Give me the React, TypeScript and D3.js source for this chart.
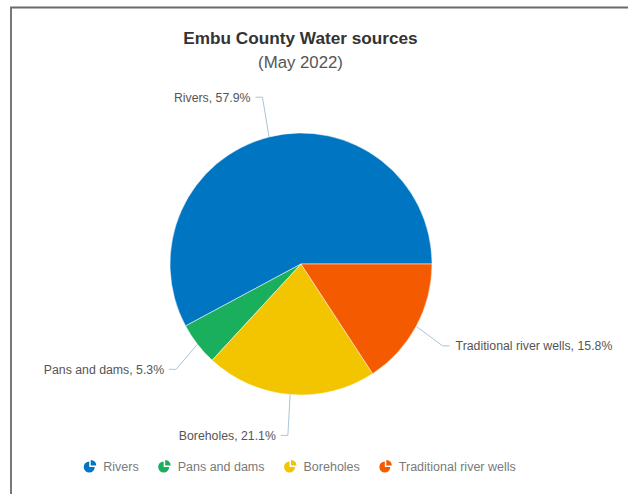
import React, { useEffect, useRef } from "react";
import * as d3 from "d3";

const categories = ["Rivers", "Pans and dams", "Boreholes", "Traditional river wells"];
const values = [57.9, 5.3, 21.1, 15.8];
const colors = ["#0075c2", "#1aaf5d", "#f2c500", "#f45b00"];
const title = "Embu County Water sources";
const subtitle = "(May 2022)";

const W = 628;
const H = 494;

export default function App() {
  const ref = useRef<SVGSVGElement>(null);

  useEffect(() => {
    const svg = d3.select(ref.current);
    svg.selectAll("*").remove();
    const font = "Liberation Sans, Arial, Helvetica, sans-serif";

    // frame
    svg.append("path")
      .attr("d", `M11,${H} V7.5 H${W}`)
      .attr("fill", "none")
      .attr("stroke", "#6a6a6a")
      .attr("stroke-width", 1.8);

    svg.append("text")
      .attr("x", 300.5).attr("y", 44)
      .attr("text-anchor", "middle")
      .attr("font-family", font)
      .attr("font-size", 17.2)
      .attr("font-weight", "bold")
      .attr("fill", "#333")
      .text(title);
    svg.append("text")
      .attr("x", 300.5).attr("y", 68)
      .attr("text-anchor", "middle")
      .attr("font-family", font)
      .attr("font-size", 16.8)
      .attr("fill", "#555")
      .text(subtitle);

    const cx = 301, cy = 264, r = 131;
    const data = categories.map((c, i) => ({ c, v: values[i], color: colors[i] }));
    const pie = d3.pie<any>().sort(null).value((d: any) => d.v)
      .startAngle(Math.PI / 2 + 2 * Math.PI).endAngle(Math.PI / 2);
    const arcs = pie(data);
    const arc = d3.arc<any>().innerRadius(0).outerRadius(r);

    const g = svg.append("g").attr("transform", `translate(${cx},${cy})`);
    g.selectAll("path.slice").data(arcs).enter().append("path")
      .attr("class", "slice")
      .attr("d", arc as any)
      .attr("fill", (d: any) => d.data.color)
      .attr("stroke", "#fff")
      .attr("stroke-width", 0.5);

    arcs.forEach((a: any) => {
      const mid = (a.startAngle + a.endAngle) / 2;
      const sx = Math.sin(mid), sy = -Math.cos(mid);
      const left = sx < 0;
      const p0 = [sx * r, sy * r];
      const p1 = [sx * (left ? 158 : 161), sy * 172];
      const p2 = [p1[0] + (left ? -7 : 7), p1[1]];
      g.append("path")
        .attr("d", `M${p0[0]},${p0[1]} L${p1[0]},${p1[1]} L${p2[0]},${p2[1]}`)
        .attr("fill", "none")
        .attr("stroke", "#a9c6d6")
        .attr("stroke-width", 1);
      g.append("text")
        .attr("x", p2[0] + (left ? -5 : 6))
        .attr("y", p1[1])
        .attr("dy", "0.35em")
        .attr("text-anchor", left ? "end" : "start")
        .attr("font-family", font)
        .attr("font-size", 12.3)
        .attr("fill", "#555")
        .text(`${a.data.c}, ${a.data.v}%`);
    });

    // legend
    const lg = svg.append("g");
    const ly = 467;
    const iconArc = d3.arc<any>().innerRadius(0).outerRadius(5.5);
    const items: any[] = [];
    let x = 0;
    data.forEach((d) => {
      const it = lg.append("g");
      it.append("path")
        .attr("d", iconArc({ startAngle: Math.PI / 2, endAngle: 2 * Math.PI } as any) as string)
        .attr("fill", d.color);
      it.append("path")
        .attr("d", iconArc({ startAngle: 0, endAngle: Math.PI / 2 } as any) as string)
        .attr("transform", "translate(1.5,-1.5)")
        .attr("fill", d.color);
      const t = it.append("text")
        .attr("x", 14)
        .attr("y", 0)
        .attr("dy", "0.35em")
        .attr("font-family", font)
        .attr("font-size", 12.5)
        .attr("fill", "#7a7a7a")
        .text(d.c);
      const w = (t.node() as SVGTextElement).getComputedTextLength();
      items.push({ it, x });
      x += 14 + w + 25;
    });
    const total = x - 25 + 5;
    const start = 300 - total / 2 + 5;
    items.forEach((o) => o.it.attr("transform", `translate(${start + o.x},${ly})`));
  }, []);

  return (
    <div style={{ position: "absolute", left: 0, top: 0, width: W, height: H, background: "#fff" }}>
      <svg ref={ref} width={W} height={H} style={{ display: "block" }} />
    </div>
  );
}
